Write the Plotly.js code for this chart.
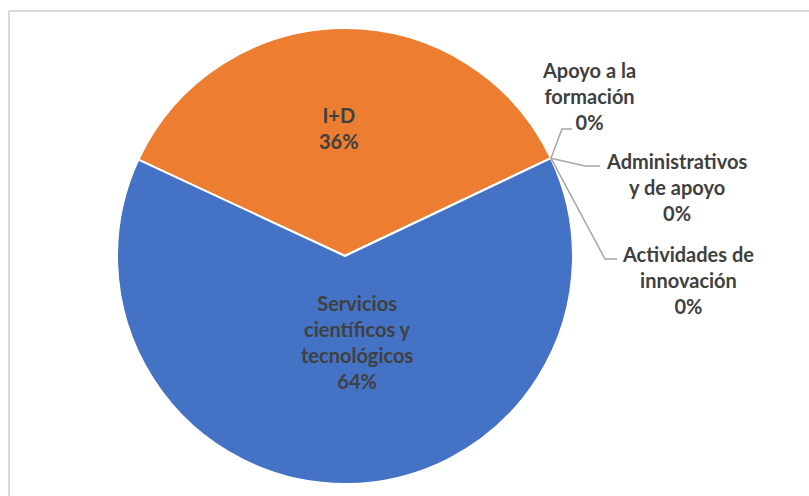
<!DOCTYPE html>
<html>
<head>
<meta charset="utf-8">
<script src="https://cdn.plot.ly/plotly-3.0.1.min.js"></script>
<style>html,body{margin:0;padding:0;background:#fff;}#chart{width:809px;height:496px;}</style>
</head>
<body>
<div id="chart"></div>
<script>
// Data
var categories = ["I+D", "Apoyo a la formación", "Administrativos y de apoyo", "Actividades de innovación", "Servicios científicos y tecnológicos"];
var labelLines = ["I+D", "Apoyo a la<br>formación", "Administrativos<br>y de apoyo", "Actividades de<br>innovación", "Servicios<br>científicos y<br>tecnológicos"];
var values = [36, 0, 0, 0, 64];
var colors = ["#ED7D31", "#A5A5A5", "#FFC000", "#5B9BD5", "#4472C4"];

var W = 809, H = 496;
var cx = 345, cy = 256, R = 228;
var rotation = -65;
var textColor = "#404040";
var font = {family: "Lato, 'Open Sans', sans-serif", size: 20, color: textColor, weight: 700};

// label placement (pixel) per category
var labelPos = [[339, 128], [589, 96], [676, 187], [688, 280], [357, 342]];
// leader elbows (pixel) for small slices
var elbows = {1: [[562, 129], [572, 129]], 2: [[585, 166], [600, 166]], 3: [[605, 259], [617, 259]]};

function px(x){return x / W;}
function py(y){return 1 - y / H;}

var total = values.reduce(function(a,b){return a+b;}, 0);
var annotations = [];
var shapes = [];
var cum = 0;
for (var i = 0; i < categories.length; i++) {
  var pct = Math.round(values[i] / total * 100) + "%";
  annotations.push({
    xref: "paper", yref: "paper", x: px(labelPos[i][0]), y: py(labelPos[i][1]),
    xanchor: "center", yanchor: "middle", showarrow: false,
    text: labelLines[i] + "<br>" + pct, font: font, align: "center"
  });
  var startAng = rotation + 360 * cum / total;
  cum += values[i];
  if (elbows[i]) {
    var th = startAng * Math.PI / 180;
    var ex = cx + R * Math.sin(th), ey = cy - R * Math.cos(th);
    var pts = [[ex, ey]].concat(elbows[i]);
    var path = "M" + pts.map(function(p){return px(p[0]) + "," + py(p[1]);}).join(" L");
    shapes.push({type: "path", xref: "paper", yref: "paper", path: path,
      line: {color: "#A6A6A6", width: 1.5}});
  }
}

// frame (partially visible)
shapes.push({type: "line", xref: "paper", yref: "paper", x0: px(9), x1: px(830), y0: py(11), y1: py(11), line: {color: "#D9D9D9", width: 2}});
shapes.push({type: "line", xref: "paper", yref: "paper", x0: px(9), x1: px(9), y0: py(11), y1: py(520), line: {color: "#D9D9D9", width: 2}});

var trace = {
  type: "pie",
  labels: categories,
  values: values,
  sort: false,
  direction: "clockwise",
  rotation: rotation,
  textinfo: "none",
  hoverinfo: "label+percent",
  marker: {colors: colors, line: {color: "#FFFFFF", width: 2}},
  domain: {x: [px(cx - R), px(cx + R)], y: [py(cy + R), py(cy - R)]},
  showlegend: false
};

var layout = {
  width: W, height: H,
  margin: {l: 0, r: 0, t: 0, b: 0},
  paper_bgcolor: "#FFFFFF",
  showlegend: false,
  annotations: annotations,
  shapes: shapes
};

Plotly.newPlot("chart", [trace], layout, {displayModeBar: false, staticPlot: true});
</script>
</body>
</html>
